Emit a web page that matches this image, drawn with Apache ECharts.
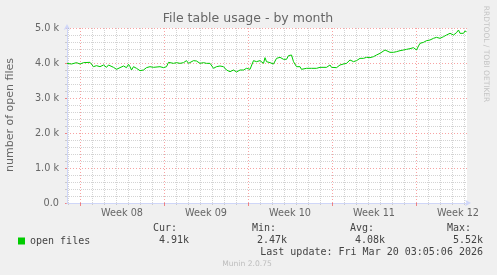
<!DOCTYPE html>
<html>
<head>
<meta charset="utf-8">
<script src="https://cdn.jsdelivr.net/npm/echarts@6/dist/echarts.min.js"></script>
<style>
html,body{margin:0;padding:0;background:#f0f0f0;}
#c{width:497px;height:275px;}
</style>
</head>
<body>
<div id="c"></div>
<script>
// hours since Mon 16 Feb 2026 00:00 (start of Week 08)
const hours = [-26,-23,-17,-7,0,7,20,23,27,33,40,47,53,57,60,67,73,80,87,93,97,100,103,107,113,120,127,133,140,147,160,167,173,177,187,193,200,207,213,217,220,227,233,240,247,253,260,267,270,273,280,287,293,300,307,313,320,327,333,340,347,353,360,367,370,373,380,387,393,400,407,413,417,423,427,430,433,440,443,453,457,463,473,480,483,493,500,503,507,513,520,527,533,540,547,553,560,567,573,580,587,593,600,610,613,620,627,633,640,647,653,660,667,673,677,680,687,693,700,707,713,720,723,727,733,740,747,750,753,757,760,763,767,770,773];
const openFiles = [3990,3933,3971,4010,3971,4010,4019,4010,3895,3924,3895,3943,3876,3943,3895,3876,3819,3867,3914,3867,3962,3895,3800,3895,3848,3781,3800,3867,3895,3876,3895,3867,3895,4019,3990,4010,3990,4010,4067,3990,3962,4067,4057,3990,4010,3990,3990,3848,3800,3895,3914,3895,3800,3752,3800,3743,3800,3800,3848,3819,4067,4038,4067,3990,4152,4038,4010,3971,4133,4162,4105,4105,4210,4229,4038,3990,3895,3895,3819,3848,3800,3848,3848,3876,3819,3876,3943,3876,3848,3867,3943,3971,3990,4086,4038,4067,4133,4133,4162,4152,4181,4229,4276,4371,4324,4305,4305,4324,4352,4371,4390,4410,4438,4371,4486,4562,4590,4638,4657,4705,4733,4705,4676,4752,4800,4848,4800,4771,4867,4943,4848,4895,4848,4914,4895];
const weekStarts = [0,168,336,504,672];
const weekMids = [84,252,420,588,756];
const weekLabels = ['Week 08','Week 09','Week 10','Week 11','Week 12'];
const statNames = ['Cur:','Min:','Avg:','Max:'];
const statValues = ['4.91k','2.47k','4.08k','5.52k'];
const seriesName = 'open files';
const lastUpdate = 'Last update: Fri Mar 20 03:05:06 2026';

const dayStarts = [];
for (let d = -24; d <= 768; d += 24) { if (d % 168 !== 0) dayStarts.push(d); }

const SANS = 'DejaVu Sans';
const MONO = 'DejaVu Sans Mono';
const FONT_C = '#666666';
const AXIS_C = '#CFD6F8';
const MGRID = 'rgba(240,50,50,0.45)';
const GRID = 'rgba(140,140,140,0.38)';
const MTICK = 'rgba(240,60,60,0.6)';

const chart = echarts.init(document.getElementById('c'), null, {renderer:'canvas', width:497, height:275});

const statX = [153, 252, 350, 447];
const statValRight = [189, 287, 385, 483];
const gfx = [];
gfx.push({type:'text', x:248, y:19, style:{text:'File table usage - by month', font:'12.5px "'+SANS+'"', fill:FONT_C, align:'center', verticalAlign:'middle', textAlign:'center', textVerticalAlign:'middle'}});
gfx.push({type:'text', x:10, y:115, rotation:Math.PI/2, style:{text:'number of open files', font:'11px "'+SANS+'"', fill:FONT_C, align:'center', verticalAlign:'middle', textAlign:'center', textVerticalAlign:'middle'}});
gfx.push({type:'text', x:486, y:54, rotation:-Math.PI/2, style:{text:'RRDTOOL / TOBI OETIKER', font:'7.5px "'+SANS+'"', fill:'#c4c4c4', align:'center', verticalAlign:'middle', textAlign:'center', textVerticalAlign:'middle'}});
statNames.forEach((n,i)=>{
  gfx.push({type:'text', x:statX[i], y:228, style:{text:n, font:'10px "'+MONO+'"', fill:'#444', align:'left', verticalAlign:'middle', textAlign:'left', textVerticalAlign:'middle'}});
  gfx.push({type:'text', x:statValRight[i], y:240, style:{text:statValues[i], font:'10px "'+MONO+'"', fill:'#444', align:'right', verticalAlign:'middle', textAlign:'right', textVerticalAlign:'middle'}});
});
gfx.push({type:'text', x:483, y:252, style:{text:lastUpdate, font:'10px "'+MONO+'"', fill:'#444', align:'right', verticalAlign:'middle', textAlign:'right', textVerticalAlign:'middle'}});
gfx.push({type:'text', x:247, y:264, style:{text:'Munin 2.0.75', font:'7.6px "'+SANS+'"', fill:'#bdbdbd', align:'center', verticalAlign:'middle', textAlign:'center', textVerticalAlign:'middle'}});

const option = {
  animation:false,
  backgroundColor:'#f0f0f0',
  grid:{left:67, top:28, width:400, height:175, show:true, backgroundColor:'#ffffff', borderWidth:0, containLabel:false},
  legend:{data:[seriesName], left:13, top:231, icon:'rect', itemWidth:7, itemHeight:7, itemGap:5, selectedMode:false,
    textStyle:{fontFamily:MONO, fontSize:10, color:'#444', padding:[0,0,0,0]}},
  xAxis:[
    {type:'value', min:-26, max:774,
     axisLine:{show:true, onZero:false, lineStyle:{color:AXIS_C, width:1}, symbol:['none','arrow'], symbolSize:[5,6], symbolOffset:[0,4]},
     axisTick:{show:true, customValues:weekStarts, length:3, lineStyle:{color:MTICK}},
     axisLabel:{show:true, customValues:weekMids, margin:5, color:FONT_C, fontFamily:SANS, fontSize:9.7,
       formatter:(v)=>{const i = weekMids.indexOf(v); return i>=0 ? weekLabels[i] : '';}},
     splitLine:{show:true, lineStyle:{color:MGRID, width:1, type:[1,2]}},
     z:2},
    {type:'value', min:-26, max:774, position:'bottom',
     axisLine:{show:false, onZero:false},
     axisTick:{show:true, customValues:dayStarts, length:2, lineStyle:{color:GRID}},
     axisLabel:{show:false},
     splitLine:{show:true, lineStyle:{color:GRID, width:1, type:[1,1]}},
     z:1}
  ],
  yAxis:{type:'value', min:0, max:5000, interval:1000, position:'left',
    axisLine:{show:true, onZero:false, lineStyle:{color:AXIS_C, width:1}, symbol:['none','arrow'], symbolSize:[5,6], symbolOffset:[0,4]},
    axisTick:{show:true, length:2, lineStyle:{color:MTICK}},
    minorTick:{show:true, splitNumber:5, length:2, lineStyle:{color:GRID}},
    splitLine:{show:true, lineStyle:{color:MGRID, width:1, type:[1,2]}},
    minorSplitLine:{show:true, lineStyle:{color:GRID, width:1, type:[1,1]}},
    axisLabel:{margin:8, color:FONT_C, fontFamily:SANS, fontSize:9.7,
      formatter:(v)=> v===0 ? '0.0' : (v/1000).toFixed(1)+' k'}
  },
  series:[{name:seriesName, type:'line', xAxisIndex:0, showSymbol:false, symbol:'none',
    lineStyle:{color:'#00cc00', width:1}, itemStyle:{color:'#00cc00'},
    data: hours.map((h,i)=>[h, openFiles[i]]), z:5}],
  graphic: gfx
};
chart.setOption(option);
</script>
</body>
</html>
